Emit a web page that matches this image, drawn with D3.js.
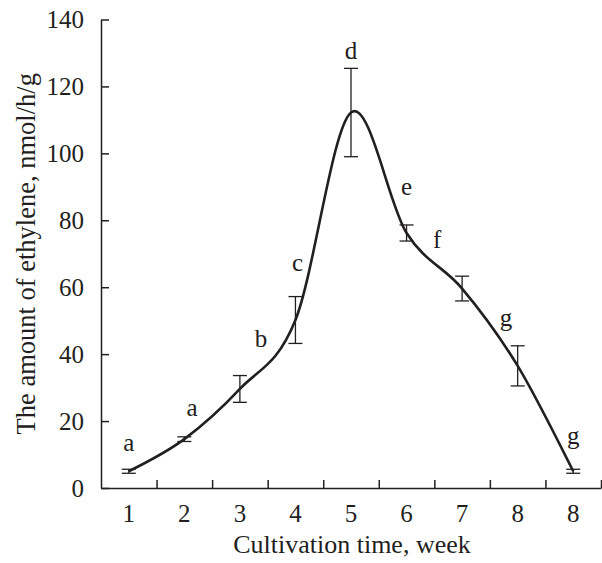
<!DOCTYPE html>
<html>
<head>
<meta charset="utf-8">
<script src="https://cdn.jsdelivr.net/npm/d3@7"></script>
<style>
  body { margin: 0; background: #fff; }
</style>
</head>
<body>
<div id="chart"></div>
<script>
// x categories (the source repeats "8" for the last one)
var weeks = ["1", "2", "3", "4", "5", "6", "7", "8", "8"];
var ethylene = [5, 14.6, 29.6, 50.2, 112.2, 76.2, 59.6, 36.5, 5];
var errs = [0.6, 0.7, 4, 7, 13.2, 2.4, 3.7, 6, 0.6];
var letters = ["a", "a", "b", "c", "d", "e", "f", "g", "g"];
// where each letter sits: offset from its week (in weeks) and height (in nmol/h/g)
var letterShift = [0, 0.14, 0.38, 0.04, 0, 0, -0.45, -0.21, 0];
var letterLevel = [13.4, 23.9, 44.5, 67, 130.5, 89.7, 74.1, 50.8, 15.5];
var yTicks = [0, 20, 40, 60, 80, 100, 120, 140];

var serif = "'Liberation Serif', 'Times New Roman', 'DejaVu Serif', serif";
var ink = "#231f20";

var margin = {top: 19.5, right: 1, bottom: 75, left: 101},
    width = 602 - margin.left - margin.right,
    height = 563 - margin.top - margin.bottom;

var svg = d3.select("#chart")
            .append("svg")
            .attr("width", 602)
            .attr("height", 563)
            .append("g")
            .attr("font-family", serif)
            .attr("transform", "translate(" + margin.left + "," + margin.top + ")");

var x = d3.scaleLinear().domain([0, weeks.length]).range([0, width]);
var y = d3.scaleLinear().domain([0, 140]).range([height, 0]);

function cx(i) { return x(i + 0.5); }

// axes
var yAxis = d3.axisLeft(y).tickValues(yTicks).tickSize(-8).tickPadding(17).tickSizeOuter(0);
var xAxis = d3.axisBottom(x).tickValues(d3.range(1, weeks.length + 1)).tickSize(-8).tickSizeOuter(0).tickFormat("");

var gy = svg.append("g").call(yAxis).attr("font-family", serif).attr("font-size", 25);
gy.selectAll("text").attr("fill", ink);
gy.selectAll("line, path").attr("stroke", ink).attr("stroke-width", 1.5);

var gx = svg.append("g").attr("transform", "translate(0," + height + ")").call(xAxis);
gx.selectAll("line, path").attr("stroke", ink).attr("stroke-width", 1.5);

svg.append("g").selectAll("text")
   .data(weeks)
   .enter().append("text")
   .attr("x", function(d, i) { return cx(i); })
   .attr("y", height + 34)
   .attr("text-anchor", "middle")
   .attr("font-size", 25)
   .attr("fill", ink)
   .text(function(d) { return d; });

svg.append("text")
   .attr("x", 251)
   .attr("y", height + 65)
   .attr("text-anchor", "middle")
   .attr("font-size", 26)
   .attr("fill", ink)
   .text("Cultivation time, week");

svg.append("text")
   .attr("transform", "translate(-66," + (height / 2) + ") rotate(-90)")
   .attr("text-anchor", "middle")
   .attr("font-size", 26.5)
   .attr("fill", ink)
   .text("The amount of ethylene, nmol/h/g");

// error bars
var eb = svg.append("g").attr("stroke", ink).attr("stroke-width", 1.3);
ethylene.forEach(function(v, i) {
  var e = errs[i], px = cx(i);
  eb.append("line").attr("x1", px).attr("x2", px).attr("y1", y(v - e)).attr("y2", y(v + e));
  eb.append("line").attr("x1", px - 7).attr("x2", px + 7).attr("y1", y(v - e)).attr("y2", y(v - e));
  eb.append("line").attr("x1", px - 7).attr("x2", px + 7).attr("y1", y(v + e)).attr("y2", y(v + e));
});

// smoothed line
var line = d3.line()
             .x(function(d, i) { return cx(i); })
             .y(function(d) { return y(d); })
             .curve(d3.curveCatmullRom.alpha(0));

svg.append("path")
   .datum(ethylene)
   .attr("d", line)
   .attr("fill", "none")
   .attr("stroke", ink)
   .attr("stroke-width", 2.6);

// significance letters
svg.append("g").selectAll("text")
   .data(letters)
   .enter().append("text")
   .attr("x", function(d, i) { return cx(i + letterShift[i]); })
   .attr("y", function(d, i) { return y(letterLevel[i]); })
   .attr("dy", "0.3em")
   .attr("text-anchor", "middle")
   .attr("font-size", 25)
   .attr("fill", ink)
   .text(function(d) { return d; });
</script>
</body>
</html>
